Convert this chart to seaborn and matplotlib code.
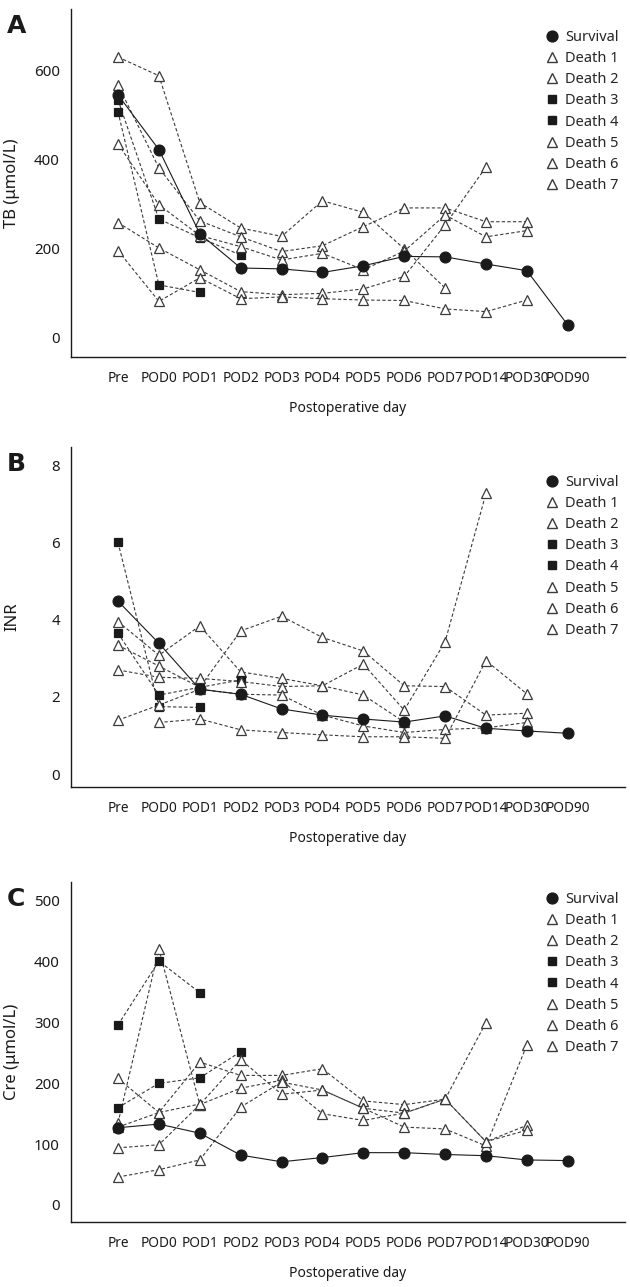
import matplotlib

matplotlib.use("Agg")
import matplotlib.pyplot as plt
import numpy as np
import pandas as pd
import seaborn as sns
from matplotlib.lines import Line2D

sns.set_theme(style="white")
plt.rcParams["font.family"] = ["Noto Sans", "DejaVu Sans"]

days = ["Pre", "POD0", "POD1", "POD2", "POD3", "POD4", "POD5",
        "POD6", "POD7", "POD14", "POD30", "POD90"]
patients = ["Survival", "Death 1", "Death 2", "Death 3", "Death 4",
            "Death 5", "Death 6", "Death 7"]

# TB (umol/L), values from Pre onwards (None = not measured)
tb_survival = [546, 423, 234, 157, 155, 147, 162, 183, 182, 166, 151, 29]
tb_death1 = [631, 589, 304, 247, 228, 308, 282, 200, 112]
tb_death2 = [568, 382, 263, 227, 194, 207, 250, 292, 292, 261, 261]
tb_death3 = [535, 267, 225, 186]
tb_death4 = [508, 119, 102]
tb_death5 = [436, 299, 230, 205, 175, 190, 153, 195, 276, 227, 241]
tb_death6 = [259, 202, 153, 104, 97, 100, 110, 138, 254, 384]
tb_death7 = [196, 82, 135, 88, 92, 88, 85, 84, 65, 59, 85]

# INR
inr_survival = [4.48, 3.39, 2.20, 2.07, 1.69, 1.53, 1.43, 1.35, 1.51, 1.19, 1.12, 1.06]
inr_death1 = [3.95, 3.08, 3.84, 2.65, 2.48, 2.29, 2.85, 1.66, 3.43, 7.27]
inr_death2 = [3.34, 2.80, 2.25, 3.71, 4.09, 3.54, 3.19, 2.29, 2.27, 1.53, 1.58]
inr_death3 = [6.0, 1.75, 1.73]
inr_death4 = [3.65, 2.05, 2.25, 2.44]
inr_death5 = [2.70, 2.51, 2.48, 2.40, 2.27, 2.29, 2.05, 1.35]
inr_death6 = [1.40, 1.79, 2.20, 2.07, 2.05, 1.53, 1.25, 1.08, 1.16, 1.20, 1.34]
inr_death7 = [None, 1.34, 1.43, 1.15, 1.08, 1.02, 0.97, 0.97, 0.93, 2.94, 2.08]

# Cre (umol/L)
cre_survival = [127, 133, 118, 82, 71, 78, 86, 86, 83, 81, 74, 73]
cre_death1 = [208, 152, 235, 213, 213, 224, 171, 165, 174, 300]
cre_death2 = [135, 421, 165, 192, 205, 150, 139, 151, 174, 104, 131]
cre_death3 = [296, 401, 349]
cre_death4 = [160, 200, 209, 252]
cre_death5 = [94, 99, 165, 239, 182, 189, 159, 128, 125, 97, 263]
cre_death6 = [46, 58, 74, 161, 202, 189, 159, 151, 174, 104, 123]
cre_death7 = [128, 152, 166]

W, H = 630, 1287
fig = plt.figure(figsize=(W / 100, H / 100), dpi=100)

styles = {
    "circle": dict(marker="o", markersize=7.8, markerfacecolor="#1a1a1a",
                   markeredgecolor="#1a1a1a", color="#1a1a1a", linestyle="-"),
    "square": dict(marker="s", markersize=6.2, markerfacecolor="#1a1a1a",
                   markeredgecolor="#1a1a1a", color="#3a3a3a", linestyle=(0, (3, 2))),
    "triangle": dict(marker="^", markersize=7.6, markerfacecolor="white",
                     markeredgecolor="#3a3a3a", color="#3a3a3a", linestyle=(0, (3, 2))),
}
kinds = ["circle", "triangle", "triangle", "square", "square",
         "triangle", "triangle", "triangle"]


def long_frame(series):
    rows = []
    for name, values in zip(patients, series):
        for i, v in enumerate(values):
            if v is not None:
                rows.append({"patient": name, "pos": i, "day": days[i], "value": v})
    return pd.DataFrame(rows)


def draw_panel(letter, ylabel, series, ylim, yticks, top_px, bottom_px, leg_top_px):
    ax = fig.add_axes([71 / W, 1 - bottom_px / H, (625 - 71) / W,
                       (bottom_px - top_px) / H])
    df = long_frame(series)
    # deaths first, survival on top
    order = patients[1:] + patients[:1]
    for name in order:
        kind = kinds[patients.index(name)]
        sub = df[df["patient"] == name]
        sns.lineplot(data=sub, x="pos", y="value", ax=ax, sort=False,
                     estimator=None, errorbar=None, legend=False,
                     linewidth=0.8, markeredgewidth=0.9,
                     zorder=4 if kind == "circle" else 3, **styles[kind])

    ax.set_xlim(-1.15, 12.40)
    ax.set_ylim(*ylim)
    ax.set_xticks(range(len(days)))
    ax.set_xticklabels(days)
    ax.set_yticks(yticks)
    ax.set_yticklabels([str(t) for t in yticks])
    sns.despine(ax=ax)
    for side in ["left", "bottom"]:
        ax.spines[side].set_color("#1a1a1a")
        ax.spines[side].set_linewidth(1.0)
    ax.tick_params(axis="y", direction="out", length=5, width=0.9,
                   labelsize=10.8, pad=3, colors="#1a1a1a")
    ax.tick_params(axis="x", direction="in", length=5, width=0.9,
                   labelsize=9.8, pad=10, colors="#1a1a1a")
    ax.set_xlabel("Postoperative day", fontsize=10, color="#1a1a1a", labelpad=11)
    ax.set_ylabel(ylabel, fontsize=12, color="#1a1a1a")
    ax.yaxis.set_label_coords(-0.092, 0.5)

    handles = [Line2D([], [], linestyle="none",
                      **{k: v for k, v in styles[kinds[i]].items()
                         if k not in ("linestyle", "color")})
               for i in range(len(patients))]
    ax.legend(handles, patients, loc="upper left",
              bbox_to_anchor=(546 / W, 1 - leg_top_px / H),
              bbox_transform=fig.transFigure, frameon=False, fontsize=10.5,
              handlelength=0.8, handletextpad=0.5, labelspacing=0.42,
              borderpad=0, borderaxespad=0)

    fig.text(7 / W, 1 - (top_px + 24) / H, letter, fontsize=18,
             fontweight="bold", family="DejaVu Sans", color="#1a1a1a",
             va="baseline")
    return ax


draw_panel("A", "TB (μmol/L)",
           [tb_survival, tb_death1, tb_death2, tb_death3, tb_death4,
            tb_death5, tb_death6, tb_death7],
           (-43, 739), [0, 200, 400, 600], 9, 357, 30)
draw_panel("B", "INR",
           [inr_survival, inr_death1, inr_death2, inr_death3, inr_death4,
            inr_death5, inr_death6, inr_death7],
           (-0.33, 8.47), [0, 2, 4, 6, 8], 447, 787, 475)
draw_panel("C", "Cre (μmol/L)",
           [cre_survival, cre_death1, cre_death2, cre_death3, cre_death4,
            cre_death5, cre_death6, cre_death7],
           (-28, 531), [0, 100, 200, 300, 400, 500], 882, 1222, 892)

fig.savefig("out.png", dpi=100)
